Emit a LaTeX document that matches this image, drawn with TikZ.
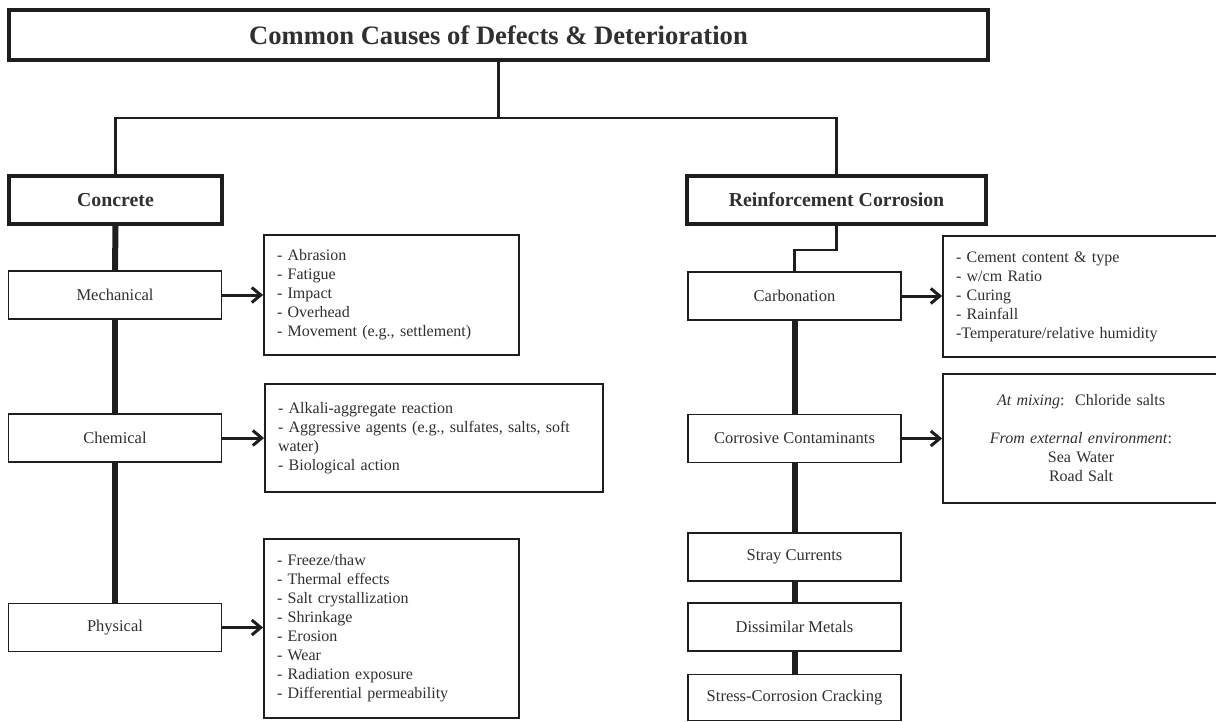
\documentclass[tikz,border=0pt]{standalone}
\usepackage{fontspec}
\setmainfont{Liberation Serif}
\usetikzlibrary{arrows.meta}
\definecolor{ink}{HTML}{1E1E1E}
\definecolor{txt}{HTML}{303030}
\tikzset{
  titlebox/.style={draw=ink, line width=2pt, minimum width=489.5pt, minimum height=25pt, text=txt, font=\bfseries\fontsize{13.3}{15}\selectfont},
  headbox/.style={draw=ink, line width=2pt, minimum height=24pt, text=txt, font=\bfseries\fontsize{9.9}{11}\selectfont},
  catbox/.style={draw=ink, line width=0.9pt, minimum width=106.5pt, minimum height=24pt, text=txt, font=\fontsize{8.25}{10}\selectfont},
  listbox/.style={draw=ink, line width=0.9pt, align=left, inner xsep=6.5pt, text=txt, font=\fontsize{8}{9.5}\selectfont},
  topline/.style={draw=ink, line width=1.3pt},
  thickline/.style={draw=ink, line width=3pt},
  arr/.style={draw=ink, line width=1.5pt, -{Straight Barb[length=4.5pt,width=7.5pt,line width=1.5pt]}}
}
\begin{document}
\begin{tikzpicture}[x=0.5pt, y=-0.5pt]
\useasboundingbox (0,0) rectangle (1216,722);
\fill[white] (0,0) rectangle (1216,722);

% title and main headings
\node[titlebox] (title) at (498.5,35) {Common Causes of Defects \& Deterioration};
\node[headbox, minimum width=106.5pt] (conc) at (115.5,200) {Concrete};
\node[headbox, minimum width=149.5pt] (rc) at (836.5,200) {Reinforcement Corrosion};

% concrete branch
\node[catbox] (mech) at (115,295) {Mechanical};
\node[catbox] (chem) at (115,438) {Chemical};
\node[catbox] (phys) at (115,627.5) {Physical};

\node[listbox, text width=114.5pt, minimum height=60pt] (mechl) at (391.5,295)
  {- Abrasion\\- Fatigue\\- Impact\\- Overhead\\- Movement (e.g., settlement)};
\node[listbox, text width=156pt, minimum height=54pt] (cheml) at (434,438)
  {- Alkali-aggregate reaction\\- Aggressive agents (e.g., sulfates, salts, soft\\water)\\- Biological action};
\node[listbox, text width=114.5pt, minimum height=89.5pt] (physl) at (391.5,628.5)
  {- Freeze/thaw\\- Thermal effects\\- Salt crystallization\\- Shrinkage\\- Erosion\\- Wear\\- Radiation exposure\\- Differential permeability};

% corrosion branch
\node[catbox] (carb) at (794.5,296) {Carbonation};
\node[catbox] (cc) at (794.5,438.5) {Corrosive Contaminants};
\node[catbox] (stray) at (794.5,557) {Stray Currents};
\node[catbox] (dis) at (794.5,627) {Dissimilar Metals};
\node[catbox, minimum height=23pt] (scc) at (794.5,697.5) {Stress-Corrosion Cracking};

\node[listbox, text width=125pt, minimum height=60.5pt] (carbl) at (1081,296.5)
  {- Cement content \& type\\- w/cm Ratio\\- Curing\\- Rainfall\\-Temperature/relative humidity};
\node[listbox, align=center, text width=125pt, minimum height=64.5pt] (ccl) at (1081,438.5)
  {\textit{At mixing}:\ \ Chloride salts\\[9.5pt]\textit{From external environment}:\\Sea Water\\Road Salt};

% connectors
\coordinate (j) at (498.5,118);
\draw[topline] (title.south) -- (j);
\draw[topline] (conc.north) |- (j) -| (rc.north);

\coordinate (k) at (794.5,250);
\draw[topline] (rc.south) |- (k) -- (carb.north);

\draw[thickline] (conc.south) -- (mech.north);
\draw[thickline] (mech.south) -- (chem.north);
\draw[thickline] (chem.south) -- (phys.north);

\draw[thickline] (carb.south) -- (cc.north);
\draw[thickline] (cc.south) -- (stray.north);
\draw[thickline] (stray.south) -- (dis.north);
\draw[thickline] (dis.south) -- (scc.north);

\draw[arr] (mech.east) -- (mechl.west |- mech.east);
\draw[arr] (chem.east) -- (cheml.west |- chem.east);
\draw[arr] (phys.east) -- (physl.west |- phys.east);
\draw[arr] (carb.east) -- (carbl.west |- carb.east);
\draw[arr] (cc.east) -- (ccl.west |- cc.east);
\end{tikzpicture}
\end{document}
